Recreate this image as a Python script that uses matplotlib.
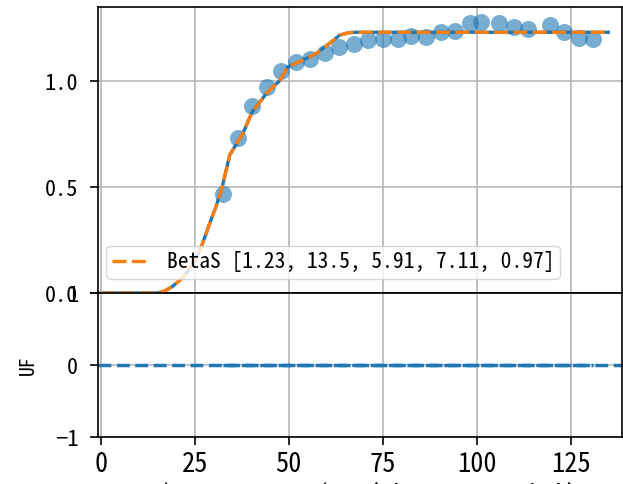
import numpy as np
import matplotlib
matplotlib.use('Agg')
import matplotlib.pyplot as plt

plt.rcParams['font.family'] = ['Noto Sans Mono CJK SC', 'Noto Sans CJK SC', 'DejaVu Sans']
plt.rcParams['font.size'] = 15
plt.rcParams['axes.unicode_minus'] = True

# measured points
x_data = [32.5, 36.5, 40.3, 44.1, 47.9, 51.9, 55.6, 59.6, 63.4, 67.4, 71.1, 75.1, 79.0,
          82.6, 86.6, 90.4, 94.3, 98.1, 101.1, 105.9, 109.8, 113.6, 119.4, 123.2, 127.1, 130.9]
y_data = [0.466, 0.73, 0.882, 0.973, 1.047, 1.088, 1.102, 1.133, 1.162, 1.173, 1.193, 1.198, 1.2,
          1.214, 1.206, 1.23, 1.236, 1.275, 1.28, 1.275, 1.256, 1.245, 1.264, 1.233, 1.204, 1.198]

# fitted BetaS curve
x_fit = [0, 15, 17, 19, 21, 23, 25, 27, 29, 30.5, 32.3, 34.3, 37.8, 40.3, 44.1, 47.5,
         49.8, 53.8, 57.4, 60.9, 63.6, 66, 68, 135]
y_fit = [0, 0, 0.01, 0.03, 0.06, 0.1, 0.15, 0.23, 0.33, 0.4, 0.5, 0.651, 0.753, 0.855, 0.942, 1.0,
         1.067, 1.099, 1.131, 1.178, 1.217, 1.228, 1.23, 1.23]
fit_label = 'BetaS [1.23, 13.5, 5.91, 7.11, 0.97]'

uf = [0.0] * len(x_data)

fig = plt.figure(figsize=(6.23, 4.84), dpi=100)
ax1 = fig.add_axes([0.157, 0.3946, 0.841, 0.59])
ax2 = fig.add_axes([0.157, 0.0971, 0.841, 0.2975], sharex=ax1)

ax1.scatter(x_data, y_data, s=150, color='C0', alpha=0.6, linewidths=0, zorder=2)
ax1.plot(x_fit, y_fit, color='C0', lw=2.4, zorder=3)
ax1.plot(x_fit, y_fit, '--', color='C1', lw=2.4, dashes=(4.2, 1.6), label=fit_label, zorder=4)
ax1.set_ylim(0, 1.347)
ax1.set_yticks([0.0, 0.5, 1.0])
ax1.grid(True, lw=1.1)
ax1.legend(loc='lower left', bbox_to_anchor=(0, 0.02), fontsize=15.5,
           handlelength=1.75, borderaxespad=0.4, borderpad=0.25)
plt.setp(ax1.get_xticklabels(), visible=False)

ax2.axhline(0, ls='--', color='C0', lw=2.5)
ax2.plot(x_data, uf, '--', color='C0', lw=2.5)
ax2.set_ylim(-1, 1)
ax2.set_yticks([-1, 0, 1])
ax2.set_ylabel('UF', fontsize=14, labelpad=12)
ax2.grid(True, lw=1.1)
ax2.set_xlim(-0.8, 138.6)
ax2.set_xticks([0, 25, 50, 75, 100, 125])
ax2.set_xlabel('D/CAW 217, 13/10 (Sheet 2 Serial)', fontsize=19, labelpad=3)

for ax in (ax1, ax2):
    for s in ax.spines.values():
        s.set_linewidth(1.2)
    ax.tick_params(width=1.2, length=6)
    ax.tick_params(axis='y', labelsize=16, pad=8)
    ax.tick_params(axis='x', labelsize=19, pad=4)

fig.savefig('out.png', dpi=100)
